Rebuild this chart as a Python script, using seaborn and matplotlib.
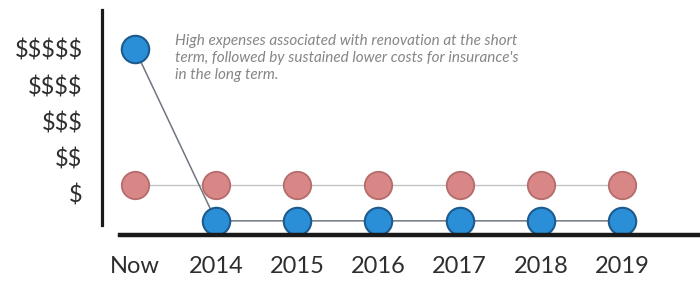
import matplotlib
matplotlib.use("Agg")
import matplotlib.pyplot as plt
import seaborn as sns
import pandas as pd

# ---- data ----
periods = ["Now", "2014", "2015", "2016", "2017", "2018", "2019"]
renovation_cost = [5.0, 0.24, 0.24, 0.24, 0.24, 0.24, 0.24]
insurance_cost = [1.23, 1.23, 1.23, 1.23, 1.23, 1.23, 1.23]
y_levels = [1, 2, 3, 4, 5]
y_labels = ["$", "$$", "$$$", "$$$$", "$$$$$"]
note = ("High expenses associated with renovation at the short\n"
        "term, followed by sustained lower costs for insurance's\n"
        "in the long term.")

reno = pd.DataFrame({"period": periods, "cost": renovation_cost})
ins = pd.DataFrame({"period": periods, "cost": insurance_cost})

sns.set_theme(style="white")
plt.rcParams["font.family"] = ["Lato", "DejaVu Sans"]
plt.rcParams["text.parse_math"] = False

fig = plt.figure(figsize=(7, 2.81), dpi=100)
fig.patch.set_facecolor("white")
ax = fig.add_axes([102 / 700, 46 / 281, 598 / 700, 225 / 281])

# connecting lines
sns.lineplot(data=ins, x="period", y="cost", ax=ax, color="#c4c4c4",
             lw=1.0, sort=False, zorder=1)
sns.lineplot(data=reno, x="period", y="cost", ax=ax, color="#6f7680",
             lw=1.1, sort=False, zorder=1)

# points
sns.scatterplot(data=ins, x="period", y="cost", ax=ax, s=390,
                color="#d98686", edgecolor="#b46c6c", linewidth=1.3,
                zorder=3)
sns.scatterplot(data=reno, x="period", y="cost", ax=ax, s=390,
                color="#2a8fd6", edgecolor="#1d5a8e", linewidth=1.5,
                zorder=3)

ax.set_xlim(-0.404, 6.96)
ax.set_ylim(-0.152, 6.08)
ax.set_yticks(y_levels)
ax.set_yticklabels(y_labels)
ax.set_xlabel("")
ax.set_ylabel("")

for s in ["top", "right"]:
    ax.spines[s].set_visible(False)
ax.spines["left"].set_color("#1a1a1a")
ax.spines["left"].set_linewidth(2.3)
ax.spines["left"].set_bounds(0.125, 6.08)
ax.spines["bottom"].set_color("#1a1a1a")
ax.spines["bottom"].set_linewidth(3.2)
ax.spines["bottom"].set_bounds(-0.18, 7.2)
ax.spines["bottom"].set_zorder(4)
ax.spines["bottom"].set_clip_on(False)

ax.tick_params(axis="y", length=0, pad=14, labelsize=17, labelcolor="#2e2e2e")
ax.tick_params(axis="x", length=0, pad=15, labelsize=17, labelcolor="#2e2e2e")

fig.text(175 / 700, 1 - 34 / 281, note, ha="left", va="top",
         style="italic", fontsize=11, color="#868686", linespacing=1.25)

fig.savefig("out.png", dpi=100, facecolor="white")
